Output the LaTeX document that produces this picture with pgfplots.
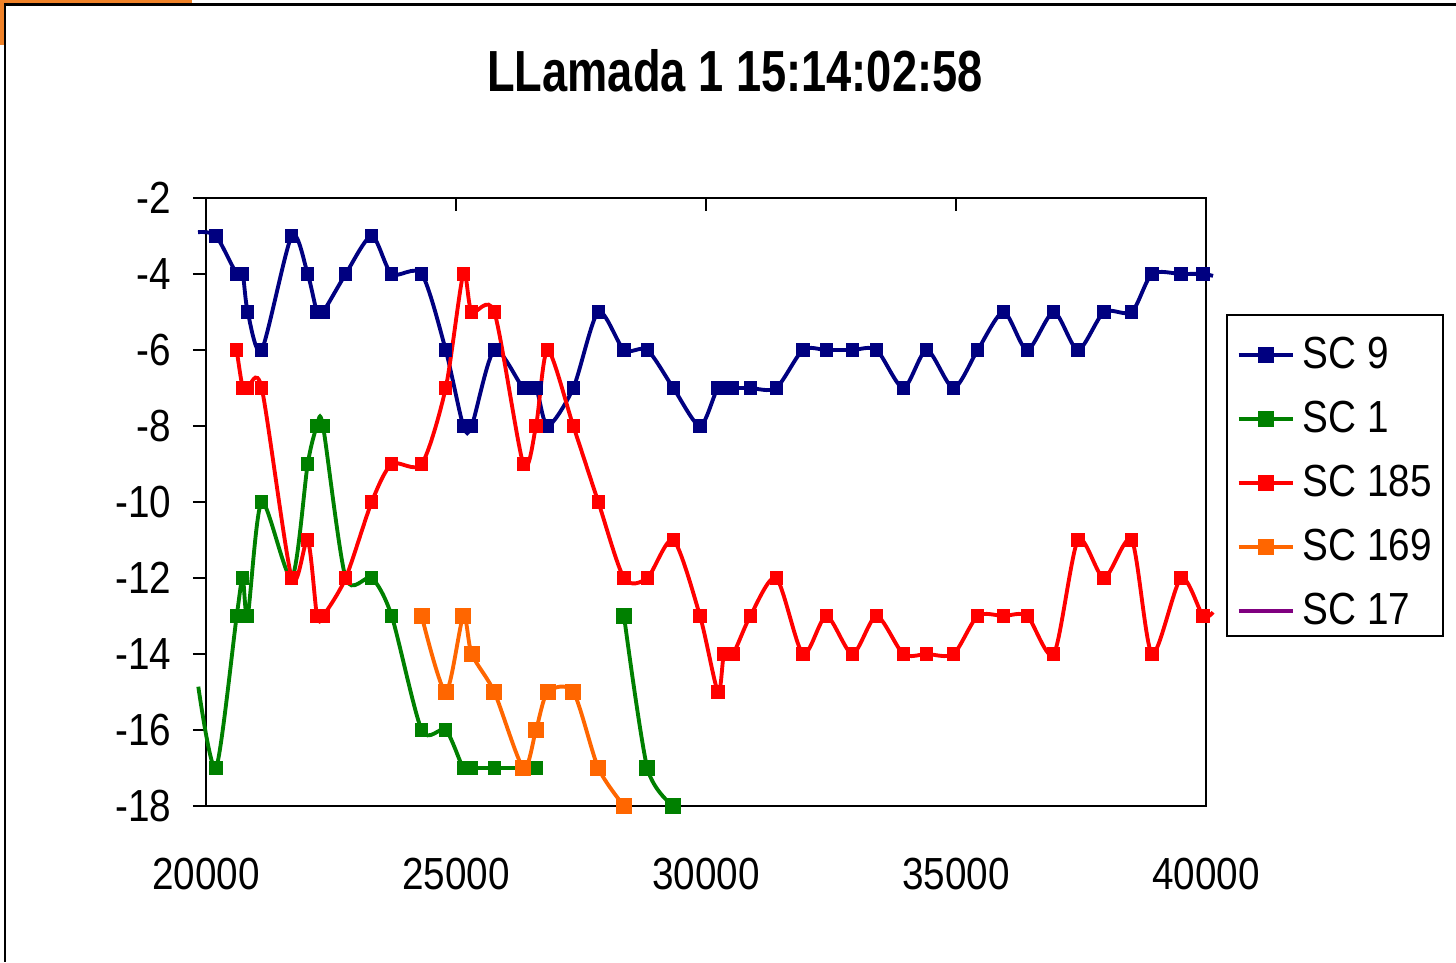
\documentclass[border=0pt]{standalone}
\usepackage{fontspec}
\setmainfont{Liberation Sans}[FakeStretch=0.86]
\newfontfamily\titlefont{Liberation Sans}[FakeStretch=0.78]
\usepackage{pgfplots}
\pgfplotsset{compat=1.18}

\definecolor{scnavy}{RGB}{0,0,128}
\definecolor{scgreen}{RGB}{0,128,0}
\definecolor{scred}{RGB}{255,0,0}
\definecolor{scorange}{RGB}{255,102,0}
\definecolor{scpurple}{RGB}{128,0,128}
\definecolor{pageorange}{RGB}{240,130,40}

\begin{document}
\begin{tikzpicture}
% picture is 1456x962 px, 1px = 0.01cm, axis lower left at (0,0)
\path[use as bounding box] (-2.06,-1.56) rectangle (12.50,8.06);
\fill[pageorange] (-2.06,8.06) rectangle (-0.14,8.03);
\fill[pageorange] (-2.06,8.03) rectangle (-2.02,7.61);
\draw[line width=0.6pt] (-2.01,-1.56) -- (-2.01,8.015) -- (12.50,8.015);

\node[anchor=base, font=\titlefont\bfseries\fontsize{16.5pt}{19pt}\selectfont]
  at (5.29,7.14) {LLamada 1 15:14:02:58};

% legend frame
\draw[line width=0.8pt] (10.21,4.91) rectangle (12.37,1.70);

\begin{axis}[
  at={(0,0)}, anchor=south west,
  scale only axis, width=10cm, height=6.08cm,
  xmin=20000, xmax=40000, ymin=-18, ymax=-2,
  scaled x ticks=false, scaled y ticks=false,
  xtick={20000,25000,...,40000},
  xticklabels={20000,25000,30000,35000,40000},
  ytick={-18,-16,...,-2},
  yticklabels={-18,-16,-14,-12,-10,-8,-6,-4,-2},
  tick align=inside,
  major tick length=0.13cm,
  xtick pos=right, xticklabel pos=left,
  ytick pos=left,
  major y tick style={xshift=-0.13cm},
  tick style={black, line width=0.7pt},
  axis line style={black, line width=0.8pt},
  ticklabel style={font=\fontsize{12.8pt}{15pt}\selectfont},
  xticklabel style={anchor=north, inner sep=0pt, yshift=-0.51cm},
  yticklabel style={anchor=east, inner sep=0pt, xshift=-0.34cm},
  clip=false,
  legend image code/.code={\draw[mark repeat=2,mark phase=2,#1] plot coordinates {(0cm,0cm) (0.27cm,0cm) (0.54cm,0cm)};},
  legend style={at={(1.021,0.7961)}, anchor=north west, draw=none, fill=none,
    inner xsep=0.09cm, inner ysep=0.14cm, row sep=0.273cm, column sep=0.08cm,
    font=\fontsize{12.8pt}{15pt}\selectfont, nodes={inner sep=0pt}},
  legend cell align=left,
]

\addlegendimage{scnavy, line width=1.1pt, mark=square*, mark size=1.7pt}
\addlegendentry{SC 9}
\addlegendimage{scgreen, line width=1.1pt, mark=square*, mark size=1.7pt}
\addlegendentry{SC 1}
\addlegendimage{scred, line width=1.1pt, mark=square*, mark size=1.7pt}
\addlegendentry{SC 185}
\addlegendimage{scorange, line width=1.1pt, mark=square*, mark size=1.7pt}
\addlegendentry{SC 169}
\addlegendimage{scpurple, line width=1.1pt}
\addlegendentry{SC 17}

% SC 9
\addplot[forget plot, scnavy, line width=1.1pt, smooth, tension=0.45, mark=none] coordinates {
  (19840,-2.9) (20200,-3) (20614,-4) (20734,-4) (20834,-5) (21114,-6) (21714,-3)
  (22034,-4) (22220,-5) (22340,-5) (22794,-4) (23314,-3) (23714,-4) (24314,-4)
  (24794,-6) (25146,-8) (25314,-8) (25766,-6) (26346,-7) (26600,-7) (26834,-8)
  (27346,-7) (27846,-5) (28360,-6) (28826,-6) (29346,-7) (29880,-8) (30240,-7)
  (30520,-7) (30886,-7) (31404,-7) (31938,-6) (32408,-6) (32928,-6) (33412,-6)
  (33946,-7) (34416,-6) (34950,-7) (35434,-6) (35952,-5) (36424,-6) (36956,-5)
  (37440,-6) (37960,-5) (38514,-5) (38920,-4) (39500,-4) (39940,-4) (40140,-4.05)
};
\addplot[forget plot, scnavy, only marks, mark=square*, mark size=1.7pt] coordinates {
  (20200,-3) (20614,-4) (20734,-4) (20834,-5) (21114,-6) (21714,-3)
  (22034,-4) (22220,-5) (22340,-5) (22794,-4) (23314,-3) (23714,-4) (24314,-4)
  (24794,-6) (25146,-8) (25314,-8) (25766,-6) (26346,-7) (26600,-7) (26834,-8)
  (27346,-7) (27846,-5) (28360,-6) (28826,-6) (29346,-7) (29880,-8) (30240,-7)
  (30520,-7) (30886,-7) (31404,-7) (31938,-6) (32408,-6) (32928,-6) (33412,-6)
  (33946,-7) (34416,-6) (34950,-7) (35434,-6) (35952,-5) (36424,-6) (36956,-5)
  (37440,-6) (37960,-5) (38514,-5) (38920,-4) (39500,-4) (39940,-4)
};

% SC 1
\addplot[forget plot, scgreen, line width=1.1pt, smooth, tension=0.45, mark=none] coordinates {
  (19846,-14.86) (20200,-17) (20614,-13) (20734,-12) (20834,-13) (21114,-10)
  (21714,-12) (22034,-9) (22220,-8) (22340,-8) (22794,-12) (23314,-12) (23714,-13)
  (24314,-16) (24794,-16) (25146,-17) (25314,-17) (25766,-17) (26346,-17) (26600,-17)
};
\addplot[forget plot, scgreen, only marks, mark=square*, mark size=1.7pt] coordinates {
  (20200,-17) (20614,-13) (20734,-12) (20834,-13) (21114,-10)
  (21714,-12) (22034,-9) (22220,-8) (22340,-8) (22794,-12) (23314,-12) (23714,-13)
  (24314,-16) (24794,-16) (25146,-17) (25314,-17) (25766,-17) (26346,-17) (26600,-17)
};
\addplot[forget plot, scgreen, line width=1.1pt, smooth, tension=0.45, mark=square*,
  mark size=1.7pt] coordinates {
  (28360,-13) (28826,-17) (29346,-18)
};

% SC 185
\addplot[forget plot, scred, line width=1.1pt, smooth, tension=0.45, mark=none] coordinates {
  (20614,-6) (20734,-7) (20834,-7) (21114,-7) (21714,-12) (22034,-11) (22220,-13)
  (22340,-13) (22794,-12) (23314,-10) (23714,-9) (24314,-9) (24794,-7) (25146,-4)
  (25314,-5) (25766,-5) (26346,-9) (26600,-8) (26834,-6) (27346,-8) (27846,-10)
  (28360,-12) (28826,-12) (29346,-11) (29880,-13) (30240,-15) (30360,-14) (30540,-14)
  (30886,-13) (31404,-12) (31938,-14) (32408,-13) (32928,-14) (33412,-13) (33946,-14)
  (34416,-14) (34950,-14) (35434,-13) (35952,-13) (36424,-13) (36956,-14) (37440,-11)
  (37960,-12) (38514,-11) (38920,-14) (39500,-12) (39940,-13) (40140,-12.9)
};
\addplot[forget plot, scred, only marks, mark=square*, mark size=1.7pt] coordinates {
  (20614,-6) (20734,-7) (20834,-7) (21114,-7) (21714,-12) (22034,-11) (22220,-13)
  (22340,-13) (22794,-12) (23314,-10) (23714,-9) (24314,-9) (24794,-7) (25146,-4)
  (25314,-5) (25766,-5) (26346,-9) (26600,-8) (26834,-6) (27346,-8) (27846,-10)
  (28360,-12) (28826,-12) (29346,-11) (29880,-13) (30240,-15) (30360,-14) (30540,-14)
  (30886,-13) (31404,-12) (31938,-14) (32408,-13) (32928,-14) (33412,-13) (33946,-14)
  (34416,-14) (34950,-14) (35434,-13) (35952,-13) (36424,-13) (36956,-14) (37440,-11)
  (37960,-12) (38514,-11) (38920,-14) (39500,-12) (39940,-13)
};

% SC 169
\addplot[forget plot, scorange, line width=1.1pt, smooth, tension=0.45, mark=square*,
  mark size=1.7pt] coordinates {
  (24314,-13) (24794,-15) (25146,-13) (25314,-14) (25766,-15) (26346,-17)
  (26600,-16) (26834,-15) (27346,-15) (27846,-17) (28360,-18)
};

\end{axis}
\end{tikzpicture}
\end{document}
